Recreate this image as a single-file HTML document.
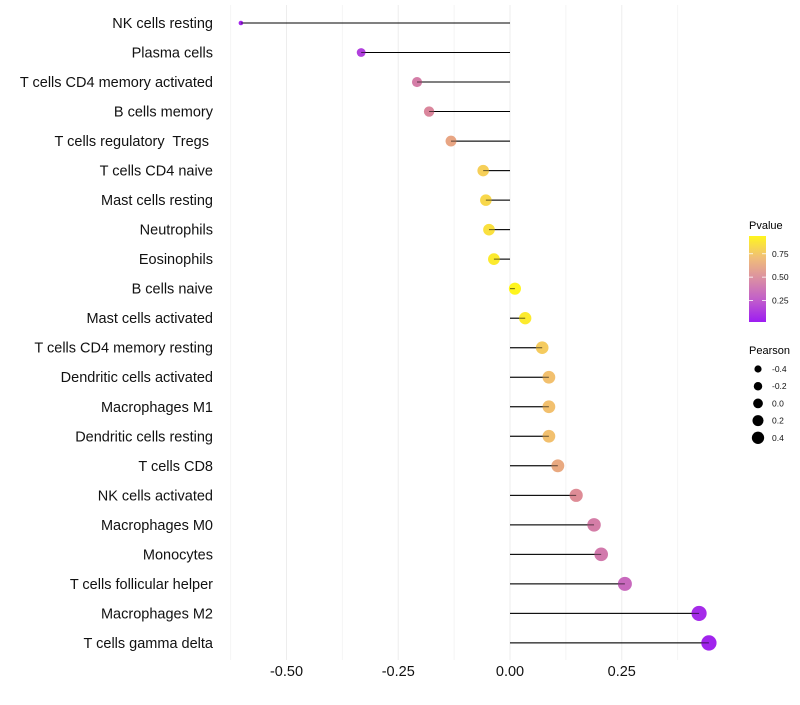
<!DOCTYPE html>
<html><head><meta charset="utf-8"><style>
body{margin:0;background:#fff;}
svg text{font-family:"Liberation Sans",sans-serif;white-space:pre;}
</style></head><body>
<svg id="chart" width="800" height="700" xmlns="http://www.w3.org/2000/svg" xml:space="preserve">
<defs><linearGradient id="pg" x1="0" y1="1" x2="0" y2="0">
<stop offset="0" stop-color="#9D1CF2"/><stop offset="0.25" stop-color="#C05CCC"/><stop offset="0.5" stop-color="#DA8EA4"/><stop offset="0.75" stop-color="#F0BE78"/><stop offset="1" stop-color="#FFF51E"/></linearGradient></defs>
<g id="grid"></g>
<g id="marks"></g>
<g id="ylabels"></g>
<g id="xlabels"></g>
<g>
<text x="749" y="229" font-size="11">Pvalue</text>
<rect x="749" y="236" width="17" height="86" fill="url(#pg)"/>
<g id="pticks"></g>
</g>
<g id="sizeleg">
<text x="749" y="354" font-size="11">Pearson</text>
</g>
</svg>
<script>
const categories=["NK cells resting","Plasma cells","T cells CD4 memory activated","B cells memory","T cells regulatory  Tregs ","T cells CD4 naive","Mast cells resting","Neutrophils","Eosinophils","B cells naive","Mast cells activated","T cells CD4 memory resting","Dendritic cells activated","Macrophages M1","Dendritic cells resting","T cells CD8","NK cells activated","Macrophages M0","Monocytes","T cells follicular helper","Macrophages M2","T cells gamma delta"];
const pearson=[-0.602,-0.333,-0.208,-0.181,-0.132,-0.060,-0.054,-0.047,-0.036,0.011,0.034,0.072,0.087,0.087,0.087,0.107,0.148,0.188,0.204,0.257,0.423,0.445];
const pvalues=[0.04,0.14,0.42,0.47,0.62,0.82,0.86,0.90,0.95,1.0,0.95,0.80,0.75,0.75,0.75,0.64,0.50,0.42,0.40,0.32,0.06,0.03];
const xTicks=[-0.5,-0.25,0,0.25];
const xTickLabels=["-0.50","-0.25","0.00","0.25"];
const pTicks=[0.25,0.5,0.75];
const pTickLabels=["0.25","0.50","0.75"];
const sizeVals=[-0.4,-0.2,0,0.2,0.4];
const sizeLabels=["-0.4","-0.2","0.0","0.2","0.4"];
const NS="http://www.w3.org/2000/svg";
const X=v=>510+v*447;
const Y=i=>23+i*29.52;
const R=v=>{const f=(v+0.602)/1.047;return Math.sqrt(4+f*50)+0.3;};
const stops=[[0,[157,28,242]],[0.25,[192,92,204]],[0.5,[222,140,150]],[0.75,[242,192,110]],[1,[255,245,30]]];
function col(p){for(let k=1;k<stops.length;k++){if(p<=stops[k][0]){const a=stops[k-1],b=stops[k],t=(p-a[0])/(b[0]-a[0]);const c=a[1].map((v,j)=>Math.round(v+(b[1][j]-v)*t));return`rgb(${c})`;}}return"rgb(255,245,30)";}
function mk(t,at,parent){const e=document.createElementNS(NS,t);for(const k in at)e.setAttribute(k,at[k]);parent.appendChild(e);return e;}
const grid=document.getElementById('grid'),marks=document.getElementById('marks'),yl=document.getElementById('ylabels'),xl=document.getElementById('xlabels');
[-0.625,-0.375,-0.125,0.125,0.375].forEach(v=>{const l=mk('line',{x1:X(v),x2:X(v),y1:5,y2:660,stroke:'#f4f4f4','stroke-width':1},grid);});
xTicks.forEach((v,i)=>{const l=mk('line',{x1:X(v),x2:X(v),y1:5,y2:660,stroke:'#ededed','stroke-width':1},grid);
const t=mk('text',{x:X(v),y:676,'font-size':14.5,'text-anchor':'middle',fill:'#111'},xl);t.textContent=xTickLabels[i];});
categories.forEach((c,i)=>{const y=Y(i);
const t=mk('text',{x:213,y:y+5,'font-size':14.5,'text-anchor':'end',fill:'#111'},yl);t.textContent=c;
const l=mk('line',{x1:X(0),x2:X(pearson[i]),y1:y,y2:y,stroke:'#000','stroke-width':1},marks);
const d=mk('circle',{cx:X(pearson[i]),cy:y,r:R(pearson[i]),fill:col(pvalues[i])},marks);
const l2=mk('line',{x1:X(0),x2:X(pearson[i]),y1:y,y2:y,stroke:'#000','stroke-width':1,'stroke-opacity':0.6},marks);});
const pt=document.getElementById('pticks');
const PY=p=>322-(p-0.02)/0.92*86;
pTicks.forEach((p,i)=>{const y=PY(p);mk('line',{x1:749,x2:753,y1:y,y2:y,stroke:'#fff','stroke-width':0.8},pt);mk('line',{x1:762,x2:766,y1:y,y2:y,stroke:'#fff','stroke-width':0.8},pt);
const t=mk('text',{x:772,y:y+3,'font-size':8.5,fill:'#111'},pt);t.textContent=pTickLabels[i];});
const sl=document.getElementById('sizeleg');
sizeVals.forEach((v,i)=>{const y=369+i*17.2;const c=mk('circle',{cx:758,cy:y,r:3.6+(v+0.4)*3.2,fill:'#000'},sl);
const t=mk('text',{x:772,y:y+3,'font-size':8.5,fill:'#111'},sl);t.textContent=sizeLabels[i];});
</script>
</body></html>
